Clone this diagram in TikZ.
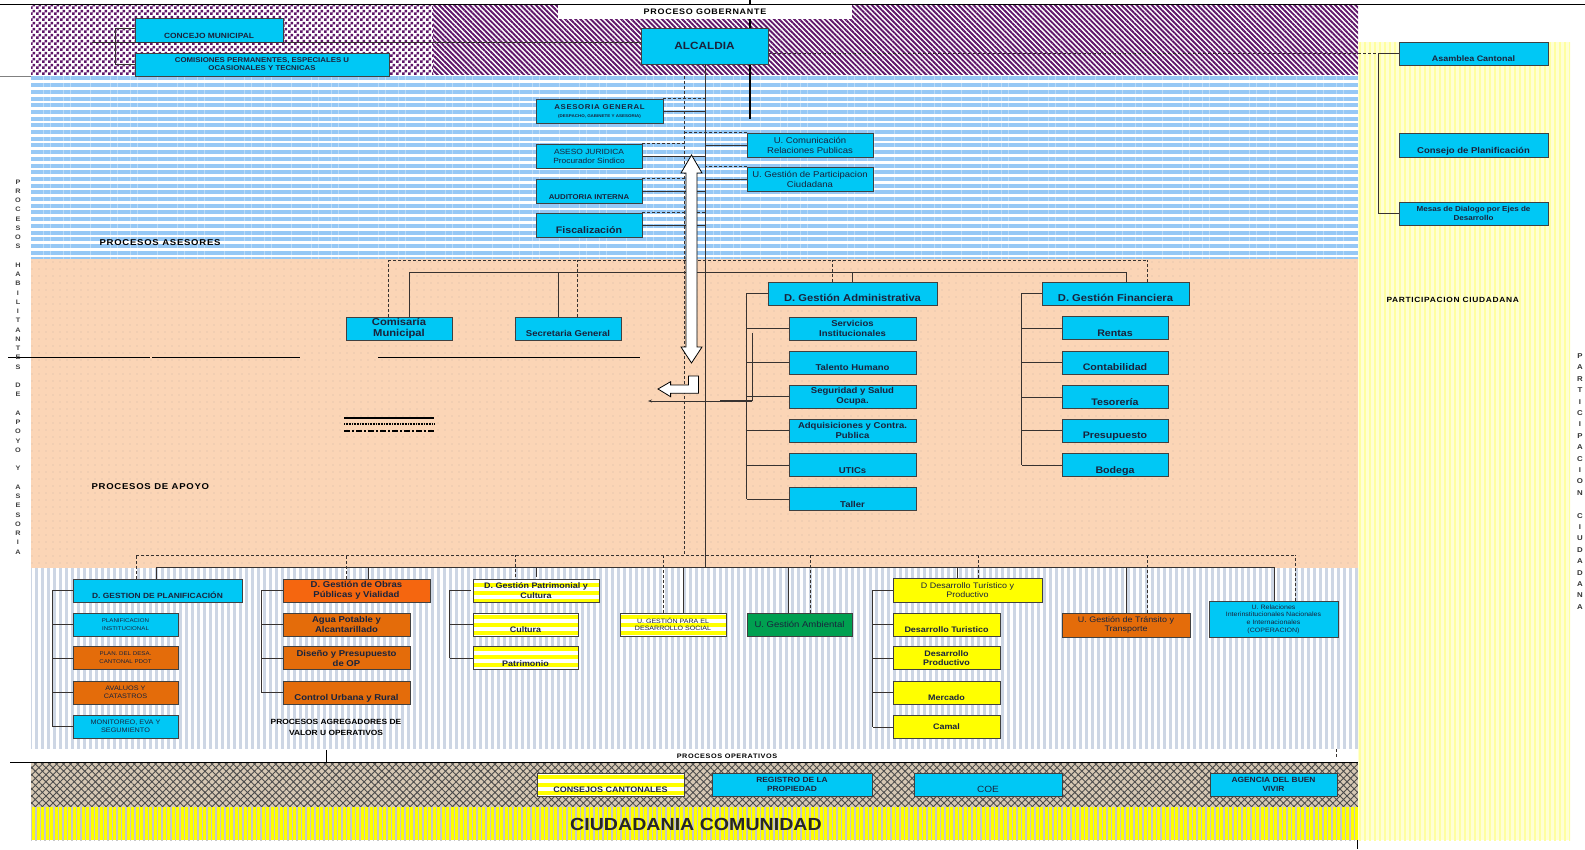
\documentclass[tikz,border=0pt]{standalone}
\usepackage{fontspec}
\setmainfont{Liberation Sans}[FakeStretch=1.12]
\usetikzlibrary{arrows.meta,positioning,calc,patterns,patterns.meta}

\definecolor{boxcyan}{RGB}{0,200,245}
\definecolor{boxorange}{RGB}{228,108,10}
\definecolor{headorange}{RGB}{245,102,15}
\definecolor{boxgreen}{RGB}{0,160,80}
\definecolor{boxyellow}{RGB}{255,255,0}
\definecolor{govpurple}{RGB}{95,22,105}
\definecolor{advblue}{RGB}{150,200,245}
\definecolor{suppeach}{RGB}{251,213,182}
\definecolor{opgray}{RGB}{205,214,228}
\definecolor{paleyellow}{RGB}{255,255,160}
\definecolor{hatchtan}{RGB}{215,200,180}
\definecolor{inknavy}{RGB}{25,35,60}
\definecolor{linkgray}{RGB}{55,50,48}

\pgfdeclarepatternformonly{finechecker}{\pgfpointorigin}{\pgfqpoint{6pt}{6pt}}{\pgfqpoint{6pt}{6pt}}%
  {\pgfpathrectangle{\pgfpointorigin}{\pgfqpoint{3pt}{3pt}}%
   \pgfpathrectangle{\pgfqpoint{3pt}{3pt}}{\pgfqpoint{3pt}{3pt}}\pgfusepath{fill}}

\newcommand\bfs[2]{\fontsize{#1}{#2}\selectfont\bfseries}
\newcommand\rms[2]{\fontsize{#1}{#2}\selectfont}
\newcommand\spaced{\addfontfeature{LetterSpace=9}}

\tikzset{
  boxbase/.style={draw=black!75, line width=0.9pt, inner sep=1pt, align=center, text=inknavy},
  unit/.style={boxbase, fill=boxcyan},
  ounit/.style={boxbase, fill=boxorange},
  hunit/.style={boxbase, fill=headorange},
  yunit/.style={boxbase, fill=boxyellow},
  gunit/.style={boxbase, fill=boxgreen},
  sunit/.style={boxbase, preaction={fill=white}, pattern={Lines[angle=0,distance=8pt,line width=4.5pt]}, pattern color=boxyellow},
  boxsize/.style 2 args={minimum width=#1pt, minimum height=#2pt},
  low/.style={text height=16pt, text depth=0pt},
  mid/.style={},
  link/.style={draw=linkgray, line width=0.7pt},
  dlink/.style={link, dash pattern=on 3pt off 2pt},
  hollow/.style={draw=black, line width=0.8pt, fill=white},
}

\begin{document}
\begin{tikzpicture}[x=1pt, y=-1pt, every node/.style={font=\bfs{8}{9.5}}]
\useasboundingbox (0,0) rectangle (1585,849);

% bands
\fill[white] (31,5) rectangle (1358,75);
\fill[pattern=finechecker, pattern color=govpurple] (31,5) rectangle (433,75);
\fill[pattern={Lines[angle=-45,distance=3.6pt,line width=1.9pt]}, pattern color=govpurple] (433,5) rectangle (1358,75);
\fill[white] (31,75) rectangle (1358,259);
\fill[pattern={Lines[angle=0,distance=6.7pt,line width=4pt]}, pattern color=advblue] (31,75) rectangle (1358,259);
\fill[suppeach] (31,259) rectangle (1358,568);
\fill[pattern={Dots[distance=6.5pt,radius=0.45pt]}, pattern color=black!45] (31,259) rectangle (1358,568);
\fill[white] (31,568) rectangle (1358,748);
\fill[pattern={Lines[angle=90,distance=6pt,line width=3pt]}, pattern color=opgray] (31,568) rectangle (1358,748);
\fill[hatchtan] (31,762) rectangle (1358,807);
\fill[pattern={Hatch[angle=45,distance=5pt,line width=0.9pt]}, pattern color=black!70] (31,762) rectangle (1358,807);
\fill[boxyellow] (31,807) rectangle (1358,840);
\fill[pattern={Lines[angle=90,distance=4.5pt,line width=1.8pt]}, pattern color=black!22] (31,807) rectangle (1358,840);
\fill[paleyellow!45] (1358,42) rectangle (1570,840);
\fill[pattern={Lines[angle=90,distance=5pt,line width=2.5pt]}, pattern color=paleyellow] (1358,42) rectangle (1570,840);

% loose rules
\draw[line width=1.5pt] (0,4.5) -- (1585,4.5);
\draw[black!50, line width=1pt] (0,76) -- (31,76);
\draw[line width=1pt] (8,357) -- (150,357) (152,357) -- (300,357);
\draw[line width=1pt] (378,357) -- (640,357);
\draw[line width=0.8pt] (10,762) -- (1358,762);
\draw[line width=0.8pt] (326,750) -- (326,762);
\draw[dlink] (1336,749) -- (1336,757);
\draw[line width=1pt] (1357,840) -- (1357,849);
\draw[line width=1.4pt] (750,0) -- (750,119);
\draw[line width=1.3pt] (344,418) -- (434,418);
\draw[line width=1.4pt, dash pattern=on 0.8pt off 0.8pt] (344,424) -- (434,424);
\draw[line width=1.5pt, dash pattern=on 6pt off 2pt on 2pt off 2pt] (344,431) -- (434,431);

% gobernante
\node[fill=white, minimum width=294pt, minimum height=14pt, inner sep=0pt, font=\bfs{8}{9}\spaced] (gobhead) at (705,12) {PROCESO GOBERNANTE};
\node[unit, boxsize={148}{24}, low, font=\bfs{7.5}{9}] (concejo) at (209,30) {CONCEJO MUNICIPAL};
\node[unit, boxsize={254}{23}, font=\bfs{7}{8}] (comisiones) at (262,64.5) {COMISIONES PERMANENTES, ESPECIALES U\\OCASIONALES Y TECNICAS};
\node[unit, boxsize={127}{36}, font=\bfs{10.5}{12}] (alcaldia) at (704.5,46) {ALCALDIA};

% participacion ciudadana
\node[unit, boxsize={149}{23}, low, font=\bfs{8}{9}] (asamblea) at (1473.5,53.5) {Asamblea Cantonal};
\node[unit, boxsize={149}{24}, low, font=\bfs{8.5}{10}] (planifica) at (1473.5,145) {Consejo de Planificación};
\node[unit, boxsize={149}{23}, font=\bfs{7.2}{8.5}] (mesas) at (1473.5,213.5) {Mesas de Dialogo por Ejes de\\Desarrollo};
\node[anchor=west, font=\bfs{7.5}{9}\spaced] (partlabel) at (1383,300) {PARTICIPACION CIUDADANA};

% asesores
\node[unit, boxsize={127}{24}, font=\bfs{7}{8}] (asesgen) at (599.5,111) {{\spaced ASESORIA GENERAL}\\{\rms{4}{5}(DESPACHO, GABINETE Y ASESORIA)}};
\node[unit, boxsize={106}{24}, font=\rms{7.5}{9}] (juridica) at (589,156) {ASESO JURIDICA\\Procurador Sindico};
\node[unit, boxsize={106}{24}, low, font=\bfs{7}{8}] (auditoria) at (589,191) {AUDITORIA INTERNA};
\node[unit, boxsize={106}{24}, low, font=\bfs{9.5}{11}] (fiscal) at (589,225) {Fiscalización};
\node[unit, boxsize={126}{24}, font=\rms{8.5}{10}] (comunic) at (810,145) {U. Comunicación\\Relaciones Publicas};
\node[unit, boxsize={126}{24}, font=\rms{8.5}{10}] (particip) at (810,179) {U. Gestión de Participacion\\Ciudadana};
\node[anchor=west, font=\bfs{8.5}{10}\spaced] (aseslabel) at (96,243) {PROCESOS ASESORES};

% apoyo
\node[unit, boxsize={106}{23}, font=\bfs{10}{10.5}] (comisaria) at (399,328.5) {Comisaría\\Municipal};
\node[unit, boxsize={106}{23}, low, font=\bfs{8.5}{10}] (secretaria) at (568,328.5) {Secretaria General};
\node[unit, boxsize={169}{23}, low, font=\bfs{10}{11}] (dadmin) at (852.5,293.5) {D. Gestión Administrativa};
\foreach \name/\y/\st/\txt in {
  servicios/328.5/mid/{Servicios\\Institucionales},
  talento/362.5/low/{Talento Humano},
  seguridad/396.5/mid/{Seguridad y Salud\\Ocupa.},
  adquis/430.5/mid/{Adquisiciones y Contra.\\Publica},
  utics/465/low/{UTICs},
  taller/499/low/{Taller}}
  \node[unit, boxsize={127}{23}, \st, font=\bfs{8.5}{10}] (\name) at (852.5,\y) {\txt};
\node[unit, boxsize={147}{23}, low, font=\bfs{10}{11}] (dfin) at (1115.5,293.5) {D. Gestión Financiera};
\foreach \name/\y/\txt in {rentas/328/Rentas, contab/362.5/Contabilidad, tesor/397/Tesorería,
  presup/430.5/Presupuesto, bodega/465/Bodega}
  \node[unit, boxsize={106}{23}, low, font=\bfs{9.5}{11}] (\name) at (1115,\y) {\txt};
\node[anchor=west, font=\bfs{8.5}{10}\spaced] (apoyolabel) at (88,487) {PROCESOS DE APOYO};

% operativos
\node[unit, boxsize={169}{23}, low, font=\bfs{7.5}{9}] (dplan) at (157.5,590.5) {D. GESTION DE PLANIFICACIÓN};
\foreach \name/\y/\st/\fs/\txt in {
  planinst/624.5/unit/5.5/{PLANIFICACION\\INSTITUCIONAL},
  pdot/658/ounit/5.5/{PLAN. DEL DESA.\\CANTONAL PDOT},
  avaluos/692.5/ounit/6.5/{AVALUOS Y\\CATASTROS},
  monitoreo/726.5/unit/6.5/{MONITOREO, EVA Y\\SEGUMIENTO}}
  \node[\st, boxsize={105}{23}, font=\rms{\fs}{8}] (\name) at (125.5,\y) {\txt};
\node[hunit, boxsize={147}{23}, font=\bfs{8.5}{10}] (dobras) at (356.5,590.5) {D. Gestión de Obras\\Públicas y Vialidad};
\foreach \name/\y/\st/\txt in {
  agua/624.5/mid/{Agua Potable y\\Alcantarillado},
  diseno/658/mid/{Diseño y Presupuesto\\de OP},
  control/692.5/low/{Control Urbana y Rural}}
  \node[ounit, boxsize={127}{23}, \st, font=\bfs{8.5}{10}] (\name) at (346.5,\y) {\txt};
\node[font=\bfs{7.5}{11}, align=center] (agreglabel) at (336,727.5) {PROCESOS AGREGADORES DE\\VALOR U OPERATIVOS};
\node[sunit, boxsize={126}{23}, font=\bfs{8}{9.5}] (dpatri) at (536,590.5) {D. Gestión Patrimonial y\\Cultura};
\node[sunit, boxsize={105}{23}, low, font=\bfs{8}{9.5}] (cultura) at (525.5,624.5) {Cultura};
\node[sunit, boxsize={105}{23}, low, font=\bfs{8}{9.5}] (patrimonio) at (525.5,658) {Patrimonio};
\node[sunit, boxsize={106}{23}, font=\rms{6.3}{7.5}] (udesoc) at (673,624.5) {U. GESTIÓN PARA EL\\DESARROLLO SOCIAL};
\node[gunit, boxsize={105}{23}, font=\rms{8.5}{10}] (uamb) at (799.5,624.5) {U. Gestión Ambiental};
\node[yunit, boxsize={149}{24}, font=\rms{8}{9.5}] (dtur) at (967.5,590) {D Desarrollo Turístico y\\Productivo};
\foreach \name/\y/\st/\txt in {
  dturis/624.5/low/{Desarrollo Turistico},
  dprod/658/mid/{Desarrollo\\Productivo},
  mercado/692.5/low/{Mercado},
  camal/727/mid/{Camal}}
  \node[yunit, boxsize={107}{23}, \st, font=\bfs{8}{9.5}] (\name) at (946.5,\y) {\txt};
\node[ounit, boxsize={128}{24}, font=\rms{8}{9.5}] (utrans) at (1126,625) {U. Gestión de Tránsito y\\Transporte};
\node[unit, boxsize={129}{36}, font=\rms{6.3}{7.6}] (urel) at (1273.5,619) {U. Relaciones\\Interinstitucionales Nacionales\\e Internacionales\\(COPERACION)};
\node[font=\bfs{6.5}{8}\spaced] (oplabel) at (727,756) {PROCESOS OPERATIVOS};

% comunidad
\node[sunit, boxsize={147}{23}, low, font=\bfs{8}{9}] (consejos) at (610.5,784.5) {CONSEJOS CANTONALES};
\node[unit, boxsize={160}{23}, font=\bfs{7.5}{9}] (registro) at (792,784.5) {REGISTRO DE LA\\PROPIEDAD};
\node[unit, boxsize={148}{23}, low, font=\rms{9}{10}] (coe) at (988,784.5) {COE};
\node[unit, boxsize={127}{23}, font=\bfs{7.5}{9}] (agencia) at (1273.5,784.5) {AGENCIA DEL BUEN\\VIVIR};
\node[font=\bfs{17.5}{20}, text=black!85] (comunidad) at (696,824) {CIUDADANIA COMUNIDAD};

% side titles
\node[align=center, font=\bfs{6.5}{9.25}, text=black!75] (leftside) at (18,367)
  {P\\R\\O\\C\\E\\S\\O\\S\\\mbox{}\\H\\A\\B\\I\\L\\I\\T\\A\\N\\T\\E\\S\\\mbox{}\\D\\E\\\mbox{}\\A\\P\\O\\Y\\O\\\mbox{}\\Y\\\mbox{}\\A\\S\\E\\S\\O\\R\\I\\A};
\node[align=center, font=\bfs{7}{11.4}, text=black!80] (rightside) at (1580,481.5)
  {P\\A\\R\\T\\I\\C\\I\\P\\A\\C\\I\\O\\N\\\mbox{}\\C\\I\\U\\D\\A\\D\\A\\N\\A};

% spines
\coordinate (spine) at (705,0);
\coordinate (dspine) at (684,0);
\coordinate (busA) at (0,272);
\coordinate (dbusA) at (0,260);
\coordinate (busO) at (0,567);
\coordinate (dbusO) at (0,555);
\draw[link] (alcaldia.south -| spine) -- (spine |- busO);
\draw[dlink] (684,76) -- (dspine |- dbusO);

% gobernante links
\draw[link] (92,42) -- ([yshift=4pt]alcaldia.west);
\draw[link] (concejo.west |- 0,28) -| (115,64) -- (comisiones.west |- 0,64);
\coordinate (pc) at (1378,53.5);
\draw[dlink] (asamblea.west -| alcaldia.east) -- (pc);
\draw[link] (pc) -- (asamblea.west);
\draw[link] (pc) |- (mesas.west);

% asesores links
\foreach \b in {asesgen,juridica,auditoria,fiscal}
  \draw[link] (\b.east) -- (\b.east -| spine);
\foreach \b in {comunic,particip}
  \draw[link] (\b.west) -- (\b.west -| spine);
\draw[dlink] (asesgen.north east) -- (asesgen.north east -| spine);
\draw[dlink] (juridica.north east) -- (juridica.north east -| dspine);
\draw[dlink] (auditoria.north east) -- (auditoria.north east -| dspine);
\draw[dlink] (fiscal.north east) -- (fiscal.north east -| spine);
\draw[dlink] (comunic.north west) -- (comunic.north west -| dspine);
\draw[dlink] (particip.north west) -- (particip.north west -| spine);

% apoyo links
\draw[link] (409,272) -- (1126,272);
\draw[dlink] (388,260) -- (1147,260);
\foreach \b/\dx in {comisaria/10,secretaria/-10,dadmin/0,dfin/10.5}
  \draw[link] (\b.north) ++(\dx,0) coordinate (t) -- (t |- busA);
\foreach \b/\dx in {comisaria/-11,secretaria/9,dadmin/-20.5,dfin/31.5}
  \draw[dlink] (\b.north) ++(\dx,0) coordinate (t) -- (t |- dbusA);
\draw[link] (dadmin.west) -- ++(-21,0) coordinate (ar) -- (ar |- taller.west);
\foreach \b in {servicios,talento,seguridad,adquis,utics,taller}
  \draw[link] (\b.west) -- (\b.west -| ar);
\draw[link] (dfin.west) -- ++(-20,0) coordinate (fr) -- (fr |- bodega.west);
\foreach \b in {rentas,contab,tesor,presup,bodega}
  \draw[link] (\b.west) -- (\b.west -| fr);
\coordinate (sideA) at (752,333);
\coordinate (sideB) at (752,401);
\draw[link] (sideA) -- (sideB);
\draw[link, line width=1.4pt] (sideB) -- (720,401);
\draw[link, -{Stealth[length=4pt,width=3pt]}] (720,401) -- (648,401);

% white arrows
\draw[hollow] (686,173) -- (681,173) -- (691.5,155) -- (702,173) -- (697,173) -- (697,347)
  -- (702,347) -- (691.5,363) -- (681,347) -- (686,347) -- cycle;
\draw[hollow] (688.5,376) -- (698.5,376) -- (698.5,393.3) -- (670.6,393.3) -- (670.6,396.7)
  -- (658,389) -- (670.6,381.7) -- (670.6,385) -- (688.5,385) -- cycle;

% operativos links
\draw[link] (156,567) -- (1274,567);
\draw[dlink] (136,555) -- (1295,555);
\foreach \b/\dx in {dplan/-1.5,dobras/11.5,dpatri/0,udesoc/10,uamb/-11.5,dtur/-10.5,utrans/0,urel/0.5}
  \draw[link] (\b.north) ++(\dx,0) coordinate (t) -- (t |- busO);
\foreach \b/\dx in {dplan/-21.5,dobras/-10.5,dpatri/-21,udesoc/-10,uamb/10.5,dtur/10.5,utrans/21,urel/21.5}
  \draw[dlink] (\b.north) ++(\dx,0) coordinate (t) -- (t |- dbusO);
\draw[link] (dplan.west) -- ++(-20,0) coordinate (pr) -- (pr |- monitoreo.west);
\foreach \b in {planinst,pdot,avaluos,monitoreo}
  \draw[link] (\b.west) -- (\b.west -| pr);
\draw[link] (dobras.west) -- ++(-21,0) coordinate (or) -- (or |- control.west);
\foreach \b in {agua,diseno,control}
  \draw[link] (\b.west) -- (\b.west -| or);
\draw[link] (dpatri.west) -- ++(-21,0) coordinate (cr) -- (cr |- patrimonio.west);
\foreach \b in {cultura,patrimonio}
  \draw[link] (\b.west) -- (\b.west -| cr);
\draw[link, line width=1pt] (dtur.west) -- ++(-20,0) coordinate (tr) -- (tr |- camal.west);
\foreach \b in {dturis,dprod,mercado,camal}
  \draw[link] (\b.west) -- (\b.west -| tr);
\end{tikzpicture}
\end{document}
